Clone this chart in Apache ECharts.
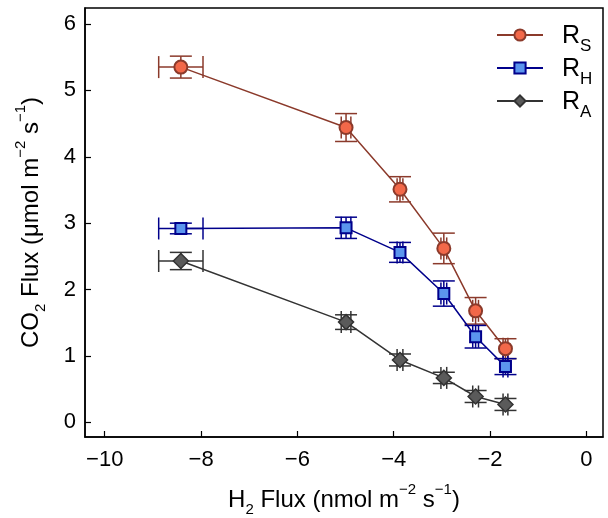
<!DOCTYPE html>
<html>
<head>
<meta charset="utf-8">
<script src="https://cdn.jsdelivr.net/npm/echarts@6/dist/echarts.min.js"></script>
<style>
  html, body { margin: 0; padding: 0; background: #fff; }
  #chart { width: 608px; height: 518px; }
</style>
</head>
<body>
<div id="chart"></div>
<script>
  // H2 flux (x) for the six treatments, shared by all three series
  var h2Flux = [-8.42, -4.99, -3.87, -2.96, -2.30, -1.68];
  var h2Err = [0.46, 0.1, 0.06, 0.06, 0.06, 0.05];
  // CO2 flux per series
  var rS = [5.35, 4.44, 3.51, 2.62, 1.68, 1.11];
  var rSErr = [0.165, 0.21, 0.19, 0.23, 0.2, 0.15];
  var rH = [2.92, 2.93, 2.56, 1.94, 1.29, 0.84];
  var rHErr = [0.08, 0.16, 0.15, 0.19, 0.17, 0.12];
  var rA = [2.43, 1.51, 0.94, 0.67, 0.39, 0.27];
  var rAErr = [0.13, 0.11, 0.09, 0.085, 0.09, 0.09];
  // tick labels
  var xTicks = [-10, -8, -6, -4, -2, 0];
  var yTicks = [0, 1, 2, 3, 4, 5, 6];

  var font = "'Liberation Sans', Arial, sans-serif";
  var chart = echarts.init(document.getElementById('chart'));

  function points(ys) {
    return h2Flux.map(function (x, i) { return [x, ys[i]]; });
  }
  function errPoints(ys, errs) {
    return h2Flux.map(function (x, i) { return [x, ys[i], h2Err[i], errs[i]]; });
  }

  // draws x and y error bars with caps
  function errorBars(color) {
    return function (params, api) {
      var x = api.value(0), y = api.value(1), ex = api.value(2), ey = api.value(3);
      var t = api.coord([x, y + ey]);
      var b = api.coord([x, y - ey]);
      var l = api.coord([x - ex, y]);
      var r = api.coord([x + ex, y]);
      var cap = 11;
      var st = { stroke: color, lineWidth: 1.5 };
      function seg(x1, y1, x2, y2) {
        return { type: 'line', shape: { x1: x1, y1: y1, x2: x2, y2: y2 }, style: st };
      }
      return {
        type: 'group',
        children: [
          seg(t[0], t[1], b[0], b[1]),
          seg(t[0] - cap, t[1], t[0] + cap, t[1]),
          seg(b[0] - cap, b[1], b[0] + cap, b[1]),
          seg(l[0], l[1], r[0], r[1]),
          seg(l[0], l[1] - cap, l[0], l[1] + cap),
          seg(r[0], r[1] - cap, r[0], r[1] + cap)
        ]
      };
    };
  }

  var colS = '#8b3a2b', colH = '#00008b', colA = '#333333';

  var legendNames = { RS: '{r|R}{s|S}', RH: '{r|R}{s|H}', RA: '{r|R}{s|A}' };

  var titleRich = {
    n: { fontSize: 24, fontFamily: font, color: '#000', lineHeight: 30, verticalAlign: 'bottom' },
    sub: { fontSize: 15, fontFamily: font, color: '#000', lineHeight: 30, verticalAlign: 'bottom', padding: [0, 0, -5, 0] },
    sup: { fontSize: 15, fontFamily: font, color: '#000', lineHeight: 30, verticalAlign: 'top' }
  };

  chart.setOption({
    animation: false,
    grid: {
      left: 85, right: 5, top: 8, bottom: 81,
      outerBoundsMode: 'none',
      containLabel: false,
      show: true, borderColor: '#000', borderWidth: 1.5
    },
    legend: {
      orient: 'vertical',
      left: 496,
      top: 24,
      padding: 0,
      itemWidth: 46,
      itemHeight: 14,
      itemGap: 2,
      data: ['RS', 'RH', 'RA'],
      formatter: function (name) { return legendNames[name]; },
      textStyle: {
        fontFamily: font,
        color: '#000',
        rich: {
          r: { fontSize: 25, fontFamily: font, color: '#000', lineHeight: 28, verticalAlign: 'bottom', padding: [0, 0, 0, 14] },
          s: { fontSize: 17, fontFamily: font, color: '#000', lineHeight: 28, verticalAlign: 'bottom', padding: [0, 0, -6, 0] }
        }
      }
    },
    xAxis: {
      type: 'value',
      min: -10.41,
      max: 0.345,
      nameLocation: 'middle',
      nameGap: 45,
      name: '{n|H}{sub|2}{n| Flux (nmol m}{sup|−2}{n| s}{sup|−1}{n|)}',
      nameTextStyle: { rich: titleRich },
      splitLine: { show: false },
      axisLine: { onZero: false, lineStyle: { color: '#000', width: 1.5 } },
      axisTick: { inside: true, length: 6, customValues: xTicks, lineStyle: { color: '#000', width: 1.2 } },
      axisLabel: {
        customValues: xTicks,
        margin: 12,
        fontSize: 22,
        fontFamily: font,
        color: '#000',
        formatter: function (v) { return String(v).replace('-', '\u2212'); }
      }
    },
    yAxis: {
      type: 'value',
      min: -0.22,
      max: 6.24,
      nameLocation: 'middle',
      nameRotate: 90,
      nameGap: 42,
      name: '{n|CO}{sub|2}{n| Flux (μmol m}{sup|−2}{n| s}{sup|−1}{n|)}',
      nameTextStyle: { rich: titleRich },
      splitLine: { show: false },
      axisLine: { onZero: false, lineStyle: { color: '#000', width: 1.5 } },
      axisTick: { inside: true, length: 6, customValues: yTicks, lineStyle: { color: '#000', width: 1.2 } },
      axisLabel: {
        customValues: yTicks,
        margin: 9,
        fontSize: 22,
        fontFamily: font,
        color: '#000'
      }
    },
    series: [
      {
        type: 'custom', name: 'errS', renderItem: errorBars(colS),
        data: errPoints(rS, rSErr), encode: { x: 0, y: 1 }, z: 1
      },
      {
        type: 'custom', name: 'errH', renderItem: errorBars(colH),
        data: errPoints(rH, rHErr), encode: { x: 0, y: 1 }, z: 1
      },
      {
        type: 'custom', name: 'errA', renderItem: errorBars(colA),
        data: errPoints(rA, rAErr), encode: { x: 0, y: 1 }, z: 1
      },
      {
        type: 'line', name: 'RS', data: points(rS), z: 3,
        symbol: 'circle', symbolSize: 13,
        lineStyle: { color: colS, width: 1.5 },
        itemStyle: { color: '#f26849', borderColor: colS, borderWidth: 2 }
      },
      {
        type: 'line', name: 'RH', data: points(rH), z: 3,
        symbol: 'rect', symbolSize: 11,
        lineStyle: { color: colH, width: 1.5 },
        itemStyle: { color: '#5b95ee', borderColor: colH, borderWidth: 2 }
      },
      {
        type: 'line', name: 'RA', data: points(rA), z: 3,
        symbol: 'diamond', symbolSize: 15,
        lineStyle: { color: colA, width: 1.5 },
        itemStyle: { color: '#5a5a5a', borderColor: colA, borderWidth: 1.5 }
      }
    ]
  });
</script>
</body>
</html>
